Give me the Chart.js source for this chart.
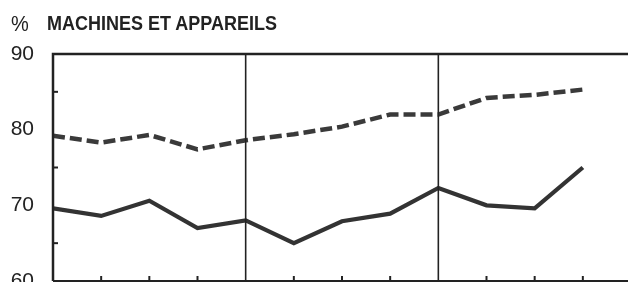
<!DOCTYPE html>
<html>
<head>
<meta charset="utf-8">
<script src="https://cdn.jsdelivr.net/npm/chart.js@4.4.1/dist/chart.umd.min.js"></script>
<style>
  html, body { margin: 0; padding: 0; background: #fff; overflow: hidden; }
  #wrap { position: relative; width: 628px; height: 282px; overflow: hidden; }
  #chart { position: absolute; left: 0; top: 0; }
  .title { position: absolute; top: 12px; font-family: "Liberation Sans", Arial, sans-serif; color: #222; transform-origin: 0 0; transform: scale(1, 1.12); }
  #pct { left: 11px; top: 11px; font-size: 20px; }
  #ttl { left: 47px; font-size: 18px; font-weight: bold; }
</style>
</head>
<body>
<div id="wrap">
  <canvas id="chart" width="640" height="282"></canvas>
  <div class="title" id="pct">%</div>
  <div class="title" id="ttl">MACHINES ET APPAREILS</div>
</div>
<script>
// quarters across three years (x positions 0..11)
const periods = [0, 1, 2, 3, 4, 5, 6, 7, 8, 9, 10, 11];
const dashedSeries = [79.2, 78.3, 79.3, 77.4, 78.6, 79.4, 80.4, 82.0, 82.0, 84.2, 84.6, 85.3];
const solidSeries = [69.6, 68.6, 70.6, 67.0, 68.0, 65.0, 67.9, 68.9, 72.3, 70.0, 69.6, 75.0];
const yTicks = [60, 70, 80, 90];
const yMinor = [65, 75, 85];
const yearBreaks = [4, 8];

const ink = '#222';

// frame, year separators and the little tick marks
const framePlugin = {
  id: 'frame',
  afterDatasetsDraw(chart) {
    const { ctx, chartArea: a, scales } = chart;
    const x = scales.x, y = scales.y;
    ctx.save();
    ctx.strokeStyle = ink;
    ctx.lineCap = 'butt';
    // top + left + bottom
    ctx.lineWidth = 2.5;
    ctx.beginPath();
    ctx.moveTo(a.left, a.bottom);
    ctx.lineTo(a.left, a.top);
    ctx.lineTo(a.right, a.top);
    ctx.stroke();
    ctx.lineWidth = 2;
    ctx.beginPath();
    ctx.moveTo(a.left, a.bottom);
    ctx.lineTo(a.right, a.bottom);
    ctx.stroke();
    // year separators
    ctx.lineWidth = 1.6;
    yearBreaks.forEach(v => {
      const px = x.getPixelForValue(v);
      ctx.beginPath();
      ctx.moveTo(px, a.top);
      ctx.lineTo(px, a.bottom);
      ctx.stroke();
    });
    // x ticks
    ctx.lineWidth = 2;
    periods.forEach(v => {
      if (v === 0 || yearBreaks.includes(v)) return;
      const px = x.getPixelForValue(v);
      ctx.beginPath();
      ctx.moveTo(px, a.bottom);
      ctx.lineTo(px, a.bottom - 5);
      ctx.stroke();
    });
    // y minor ticks
    yMinor.forEach(v => {
      const py = y.getPixelForValue(v);
      ctx.beginPath();
      ctx.moveTo(a.left, py);
      ctx.lineTo(a.left + 5, py);
      ctx.stroke();
    });
    ctx.restore();
  }
};

new Chart(document.getElementById('chart').getContext('2d'), {
  type: 'line',
  data: {
    datasets: [
      {
        label: 'pointillé',
        data: periods.map((p, i) => ({ x: p, y: dashedSeries[i] })),
        borderColor: '#3a3a3a',
        borderWidth: 4.5,
        borderDash: [12, 5],
        pointRadius: 0,
        tension: 0,
        fill: false,
      },
      {
        label: 'continu',
        data: periods.map((p, i) => ({ x: p, y: solidSeries[i] })),
        borderColor: '#333',
        borderWidth: 4.2,
        pointRadius: 0,
        tension: 0,
        fill: false,
      },
    ],
  },
  options: {
    responsive: false,
    animation: false,
    layout: { autoPadding: false, padding: { top: 54, right: 9, bottom: 1, left: 0 } },
    plugins: { legend: { display: false }, tooltip: { enabled: false } },
    scales: {
      x: {
        type: 'linear',
        min: 0,
        max: 12,
        afterFit(scale) { scale.height = 0; },
        ticks: { display: false },
        grid: { display: false, drawTicks: false },
        border: { display: false },
      },
      y: {
        min: 60,
        max: 90,
        afterFit(scale) {
          scale.width = 53;
          scale.paddingTop = 0;
          scale.paddingBottom = 0;
        },
        afterBuildTicks(scale) { scale.ticks = yTicks.map(v => ({ value: v })); },
        grid: { display: false },
        border: { display: false },
        ticks: {
          color: ink,
          padding: 11,
          font: { family: 'Liberation Sans', size: 21 },
        },
      },
    },
  },
  plugins: [framePlugin],
});
</script>
</body>
</html>
